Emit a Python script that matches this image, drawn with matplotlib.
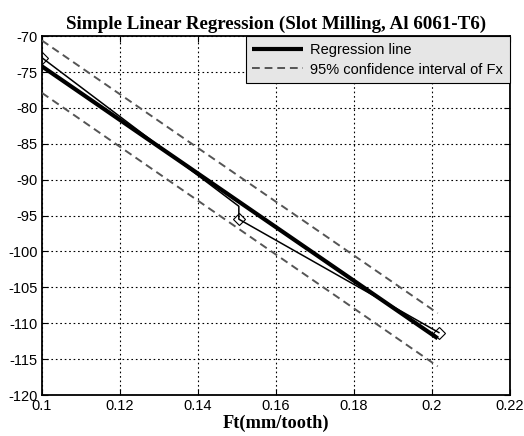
import matplotlib
matplotlib.use("Agg")
import matplotlib.pyplot as plt

plt.rcParams["axes.unicode_minus"] = False

# Measured data (thin line) and markers
data_x = [0.1, 0.1505, 0.1505, 0.2018]
data_y = [-73.0, -93.7, -95.5, -111.3]
marker_x = [0.1, 0.1505, 0.2018]
marker_y = [-73.0, -95.5, -111.3]

# Regression line
reg_x = [0.1, 0.2015]
reg_y = [-74.2, -112.1]

# 95% confidence interval bounds
ci_x = [0.1, 0.2015]
ci_upper = [-70.6, -108.6]
ci_lower = [-77.9, -116.0]

xticks = [0.1, 0.12, 0.14, 0.16, 0.18, 0.2, 0.22]
xticklabels = ["0.1", "0.12", "0.14", "0.16", "0.18", "0.2", "0.22"]
yticks = [-120, -115, -110, -105, -100, -95, -90, -85, -80, -75, -70]

fig = plt.figure(figsize=(5.24, 4.36), dpi=100)
ax = fig.add_axes([0.080, 0.094, 0.893, 0.823])

serif = ["Liberation Serif", "DejaVu Serif"]
sans = ["Liberation Sans", "DejaVu Sans"]

l1, = ax.plot(reg_x, reg_y, color="black", lw=3.0, solid_capstyle="butt", zorder=3,
              label="Regression line")
l2, = ax.plot(ci_x, ci_upper, color="#555555", lw=1.4, ls=(0, (4, 2.5)), zorder=3,
              label="95% confidence interval of Fx")
ax.plot(ci_x, ci_lower, color="#555555", lw=1.4, ls=(0, (4, 2.5)), zorder=3)
ax.plot(data_x, data_y, color="black", lw=1.1, zorder=4)
ax.plot(marker_x, marker_y, ls="none", marker="D", ms=6.5, mfc="none", mec="black",
        mew=0.8, zorder=5)

ax.set_xlim(0.1, 0.22)
ax.set_ylim(-120, -70)
ax.set_xticks(xticks)
ax.set_xticklabels(xticklabels)
ax.set_yticks(yticks)
ax.tick_params(direction="in", top=True, right=True, length=4, width=0.8,
               labelsize=10.5, pad=3)
for lab in ax.get_xticklabels() + ax.get_yticklabels():
    lab.set_family(sans)
ax.grid(True, color="black", ls=(0, (1.5, 2.5)), lw=0.8)
for s in ax.spines.values():
    s.set_linewidth(1.3)

ax.set_title("Simple Linear Regression (Slot Milling, Al 6061-T6)",
             family=serif, fontweight="bold", fontsize=13.7, pad=5)
ax.set_xlabel("Ft(mm/tooth)", family=serif, fontweight="bold", fontsize=13.2,
              labelpad=1)

leg = ax.legend(handles=[l1, l2], loc="upper right", fancybox=False,
                framealpha=1, edgecolor="black", facecolor="#e6e6e6",
                prop={"family": sans, "size": 10.5}, handlelength=3.5,
                borderaxespad=0, borderpad=0.45, labelspacing=0.4,
                handletextpad=0.5)
leg.get_frame().set_linewidth(0.8)

fig.savefig("out.png", dpi=100)
